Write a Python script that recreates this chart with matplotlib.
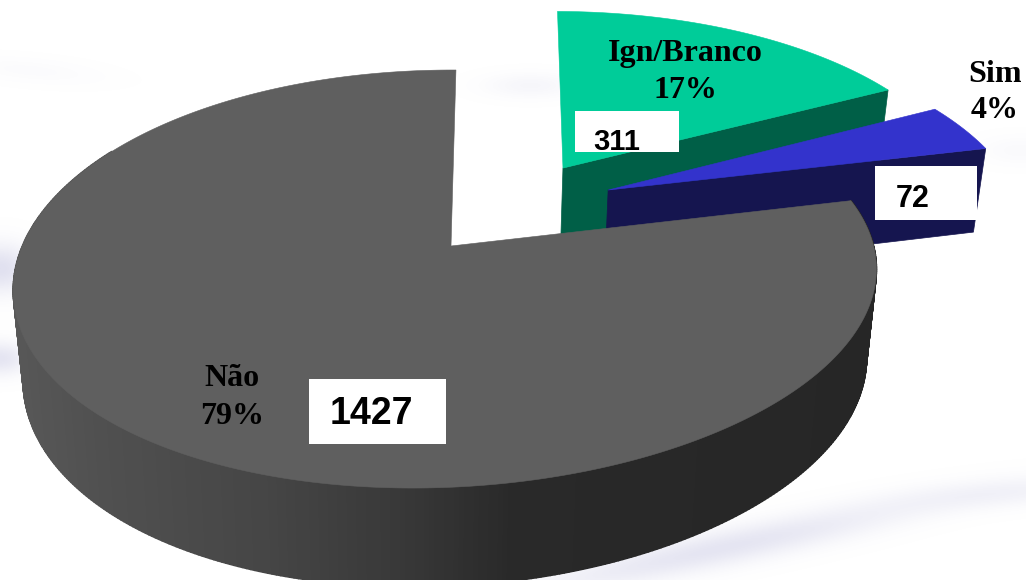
import numpy as np
import matplotlib
matplotlib.use("Agg")
import matplotlib.pyplot as plt
from matplotlib.collections import PolyCollection
from matplotlib.colors import LinearSegmentedColormap
from matplotlib.patches import Polygon, Rectangle

categories = ["Ign/Branco", "Sim", "Não"]
values = [311, 72, 1427]
top_colors = ["#00CC99", "#3333CC", "#5F5F5F"]
side_colors = ["#005F47", "#15154F", "#333333"]
# explode of each slice on the pie plane
explode_u = [0.28, 0.386, 0.0]
explode_v = [0.407, 0.287, 0.0]
# small corrections of the arcs: shift in x and lean with depth
arc_dx = [0, 0, -3]
lean_p = [-2.1, 0, 17.5]
lean_q = [9.4, 0, -12]

# perspective of the pie, in pixels
cx, cy = 451, 246
rx, ry = 425.6, 203.8
persp = 0.158
height = 88
shrink = 0.977
start_angle = 89.5


def project(u, v, low=False):
    w = 1 + persp * v
    s = shrink if low else 1.0
    return cx + s * rx * u / w, cy - s * ry * v / w + (height / w if low else 0)


def edge(a1, a2, i, low=False):
    t = np.radians(np.linspace(a1, a2, 400))
    x, y = project(explode_u[i] + np.cos(t), explode_v[i] + np.sin(t), low)
    v = np.sin(t)
    w = 1 + persp * (explode_v[i] + v)
    x = x + arc_dx[i] + (lean_p[i] * v + lean_q[i] * v ** 2) / w
    return np.column_stack([x, y])


fig = plt.figure(figsize=(10.26, 5.8), dpi=100)
ax = fig.add_axes([0, 0, 1, 1])

# faint streaks of the slide background
X, Y = np.meshgrid(np.arange(1026), np.arange(580))
streaks = [(0, 268, 0, 32, 24, 0.42), (0, 358, 0, 28, 16, 0.36),
           (720, 548, -12, 190, 18, 0.36), (1010, 492, -5, 110, 14, 0.16),
           (530, 85, 0, 45, 12, 0.12), (30, 70, 5, 70, 12, 0.05),
           (1020, 150, 0, 40, 14, 0.07)]
alpha = np.zeros(X.shape)
for x0, y0, ang, sx, sy, strength in streaks:
    c, s = np.cos(np.radians(ang)), np.sin(np.radians(ang))
    a = (X - x0) * c + (Y - y0) * s
    b = -(X - x0) * s + (Y - y0) * c
    alpha += strength * np.exp(-(a / sx) ** 2 - (b / sy) ** 2)
bg = np.ones(X.shape + (4,))
bg[..., 0], bg[..., 1], bg[..., 2] = 0.72, 0.72, 0.86
bg[..., 3] = np.clip(alpha, 0, 1)
ax.imshow(bg, extent=(0, 1026, 580, 0), aspect="auto", zorder=0)

cmap = LinearSegmentedColormap.from_list("rim", [(0, "#585858"), (0.1, "#505050"), (0.3, "#454545"),
                                                 (0.45, "#383838"), (0.58, "#292929"), (1, "#262626")])

angle = start_angle
z = 2
for i in range(len(values)):
    end = angle - 360 * values[i] / sum(values)
    top = edge(end, angle, i)
    apex = project(explode_u[i], explode_v[i])
    if i < 2:
        # cut face towards the viewer
        low_apex = project(explode_u[i], explode_v[i], True)
        low_end = edge(end, angle, i, True)[0]
        ax.add_patch(Polygon([apex, top[0], low_end, low_apex], fc=side_colors[i], ec=side_colors[i], lw=0.5, zorder=z))
    else:
        # outer rim as small quads, shaded by x like the original
        upper = edge(150 - 360, angle, i)
        lower = edge(150 - 360, angle, i, True)
        quads = [[upper[k], upper[k + 1], lower[k + 1], lower[k]] for k in range(len(upper) - 1)]
        shade = [(q[0][0] - 10) / 870 for q in quads]
        ax.add_collection(PolyCollection(quads, array=np.array(shade), cmap=cmap, clim=(0, 1),
                                         edgecolors="face", linewidths=1.2, zorder=z))
    ax.add_patch(Polygon(np.vstack([[apex], top]), fc=top_colors[i], ec=top_colors[i], lw=0.4, zorder=z + 1))
    angle = end
    z += 2

# labels
pct = [f"{round(100 * v / sum(values))}%" for v in values]
label_xy = [(685, 54), (995, 74), (232, 378)]
pct_xy = [(685, 90), (995, 110), (232, 416)]
boxes = [(575, 111, 104, 41), (875, 166, 102, 54), (309, 379, 137, 65)]
num_xy = [(617, 142), (913, 199), (371, 414)]
num_size = [21, 22, 27]
for i in range(len(values)):
    ax.text(*label_xy[i], categories[i], family="Liberation Serif", weight="bold", fontsize=23,
            ha="center", va="center", color="black", zorder=20)
    ax.text(*pct_xy[i], pct[i], family="Liberation Serif", weight="bold", fontsize=23,
            ha="center", va="center", color="black", zorder=20)
    ax.add_patch(Rectangle(boxes[i][:2], boxes[i][2], boxes[i][3], fc="white", ec="none", zorder=21))
    ax.text(*num_xy[i], str(values[i]), family="Liberation Sans", weight="bold", fontsize=num_size[i],
            ha="center", va="center", color="black", zorder=22)

ax.set_xlim(0, 1026)
ax.set_ylim(580, 0)
ax.axis("off")
fig.savefig("out.png", dpi=100)
